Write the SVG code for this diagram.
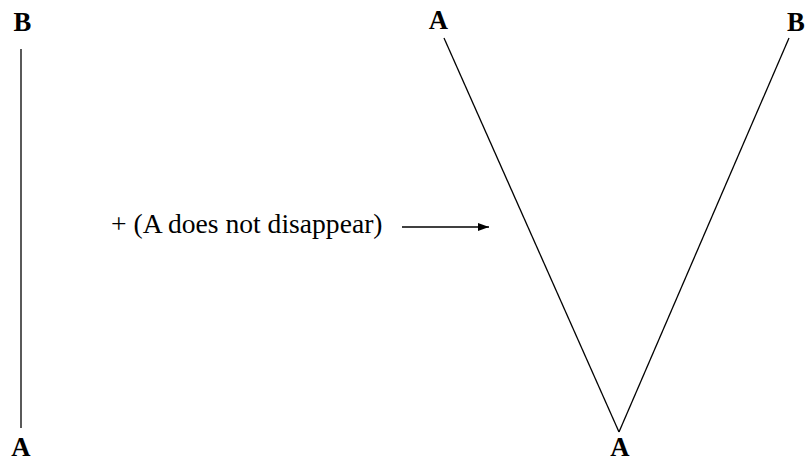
<svg xmlns="http://www.w3.org/2000/svg" width="808" height="462" viewBox="0 0 808 462">
<style>
.lbl{font-family:'Liberation Serif','Times New Roman',Times,serif;font-weight:bold;font-size:26.67px;fill:#000}
.txt{font-family:'Liberation Serif','Times New Roman',Times,serif;font-size:27.6px;fill:#000}
.ln{stroke:#000;stroke-width:1.3;fill:none}
</style>
<defs>
<marker id="ah" markerWidth="11" markerHeight="8" refX="11" refY="4" orient="auto" markerUnits="userSpaceOnUse">
<path d="M0,0 L11,4 L0,8 Z" fill="#000"/>
</marker>
</defs>
<rect width="808" height="462" fill="#fff"/>
<g id="left-B"><text class="lbl" x="22.5" y="31" text-anchor="middle">B</text></g>
<g id="left-A"><text class="lbl" x="21" y="456" text-anchor="middle">A</text></g>
<g id="top-A"><text class="lbl" x="438.5" y="29" text-anchor="middle">A</text></g>
<g id="top-B"><text class="lbl" x="796" y="31" text-anchor="middle">B</text></g>
<g id="bottom-A"><text class="lbl" x="620" y="456" text-anchor="middle">A</text></g>
<g id="note"><text class="txt" x="111" y="233">+ (A does not disappear)</text></g>
<g id="connectors">
<line class="ln" x1="21" y1="49" x2="21" y2="428"/>
<line class="ln" x1="444" y1="38" x2="619" y2="432"/>
<line class="ln" x1="789" y1="38" x2="619" y2="432"/>
<line class="ln" x1="402" y1="227" x2="489" y2="227" marker-end="url(#ah)"/>
</g>
</svg>
